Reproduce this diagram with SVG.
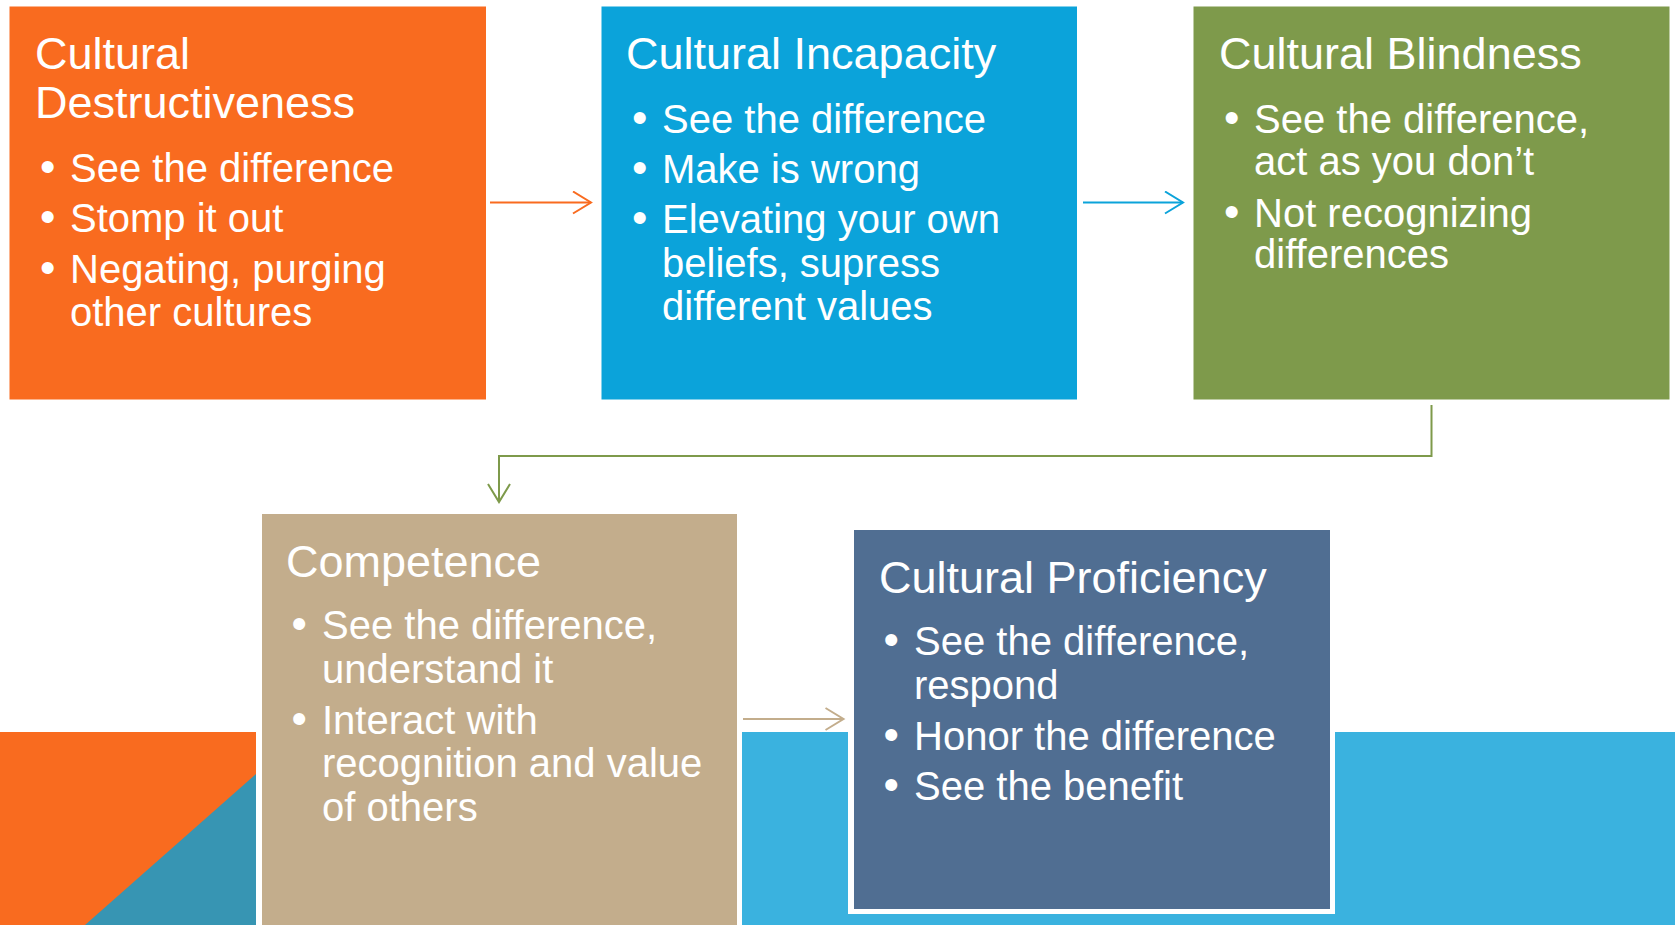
<svg xmlns="http://www.w3.org/2000/svg" width="1675" height="925" viewBox="0 0 1675 925">
<style>
.t{font-family:"Liberation Sans",Arial,sans-serif;font-size:45px;fill:#fff}
.b{font-family:"Liberation Sans",Arial,sans-serif;font-size:40px;fill:#fff}
.d{font-family:"Liberation Sans",Arial,sans-serif;font-size:44px;fill:#fff}
.c{fill:none;stroke-width:2}
</style>
<defs>
<marker id="mo" markerWidth="22" markerHeight="26" refX="19" refY="12" orient="auto" markerUnits="userSpaceOnUse"><path d="M1,1 L19,12 L1,23" fill="none" stroke="#F96B1F" stroke-width="2"/></marker>
<marker id="mb" markerWidth="22" markerHeight="26" refX="19" refY="12" orient="auto" markerUnits="userSpaceOnUse"><path d="M1,1 L19,12 L1,23" fill="none" stroke="#0BA3DA" stroke-width="2"/></marker>
<marker id="mg" markerWidth="22" markerHeight="26" refX="19" refY="12" orient="auto" markerUnits="userSpaceOnUse"><path d="M1,1 L19,12 L1,23" fill="none" stroke="#7E9A4B" stroke-width="2"/></marker>
<marker id="mt" markerWidth="22" markerHeight="26" refX="19" refY="12" orient="auto" markerUnits="userSpaceOnUse"><path d="M1,1 L19,12 L1,23" fill="none" stroke="#C3AD8C" stroke-width="2"/></marker>
</defs>
<rect width="1675" height="925" fill="#fff"/>
<g id="background">
<rect x="0" y="732" width="256" height="193" fill="#F96B1F"/>
<polygon points="256,774 256,925 85,925" fill="#3795B3"/>
<rect x="742" y="732" width="933" height="193" fill="#3AB2DF"/>
</g>
<g id="connectors">
<line class="c" stroke="#F96B1F" x1="490" y1="202.5" x2="591" y2="202.5" marker-end="url(#mo)"/>
<line class="c" stroke="#0BA3DA" x1="1083" y1="202.5" x2="1183" y2="202.5" marker-end="url(#mb)"/>
<polyline class="c" stroke="#7E9A4B" points="1431.5,405 1431.5,456 499,456 499,502" marker-end="url(#mg)"/>
<line class="c" stroke="#C3AD8C" x1="743" y1="719" x2="843.5" y2="719" marker-end="url(#mt)"/>
</g>
<g id="node-destructiveness">
<rect x="9.5" y="6.5" width="476.5" height="393" fill="#F96B1F"/>
<text class="t" x="35" y="69">Cultural</text>
<text class="t" x="35" y="118">Destructiveness</text>
<text class="d" x="40" y="182">•</text><text class="b" x="70" y="182">See the difference</text>
<text class="d" x="40" y="232">•</text><text class="b" x="70" y="232">Stomp it out</text>
<text class="d" x="40" y="283">•</text><text class="b" x="70" y="283">Negating, purging</text>
<text class="b" x="70" y="326">other cultures</text>
</g>
<g id="node-incapacity">
<rect x="601.5" y="6.5" width="475.5" height="393" fill="#0BA3DA"/>
<text class="t" x="626" y="69">Cultural Incapacity</text>
<text class="d" x="632" y="133">•</text><text class="b" x="662" y="133">See the difference</text>
<text class="d" x="632" y="183">•</text><text class="b" x="662" y="183">Make is wrong</text>
<text class="d" x="632" y="233">•</text><text class="b" x="662" y="233">Elevating your own</text>
<text class="b" x="662" y="277">beliefs, supress</text>
<text class="b" x="662" y="320">different values</text>
</g>
<g id="node-blindness">
<rect x="1193.5" y="6.5" width="476" height="393" fill="#7E9A4B"/>
<text class="t" x="1219" y="69">Cultural Blindness</text>
<text class="d" x="1224" y="133">•</text><text class="b" x="1254" y="133">See the difference,</text>
<text class="b" x="1254" y="175">act as you don’t</text>
<text class="d" x="1224" y="227">•</text><text class="b" x="1254" y="227">Not recognizing</text>
<text class="b" x="1254" y="268">differences</text>
</g>
<g id="node-competence">
<rect x="262" y="514" width="475" height="411" fill="#C3AD8C"/>
<text class="t" x="286" y="577">Competence</text>
<text class="d" x="291.5" y="639">•</text><text class="b" x="322" y="639">See the difference,</text>
<text class="b" x="322" y="683">understand it</text>
<text class="d" x="291.5" y="734">•</text><text class="b" x="322" y="734">Interact with</text>
<text class="b" x="322" y="777">recognition and value</text>
<text class="b" x="322" y="821">of others</text>
</g>
<g id="node-proficiency">
<rect x="848" y="525" width="487" height="389" fill="#fff"/>
<rect x="854" y="530" width="476" height="379" fill="#506E92"/>
<text class="t" x="879" y="593">Cultural Proficiency</text>
<text class="d" x="883.5" y="655">•</text><text class="b" x="914" y="655">See the difference,</text>
<text class="b" x="914" y="699">respond</text>
<text class="d" x="883.5" y="750">•</text><text class="b" x="914" y="750">Honor the difference</text>
<text class="d" x="883.5" y="800">•</text><text class="b" x="914" y="800">See the benefit</text>
</g>
</svg>
